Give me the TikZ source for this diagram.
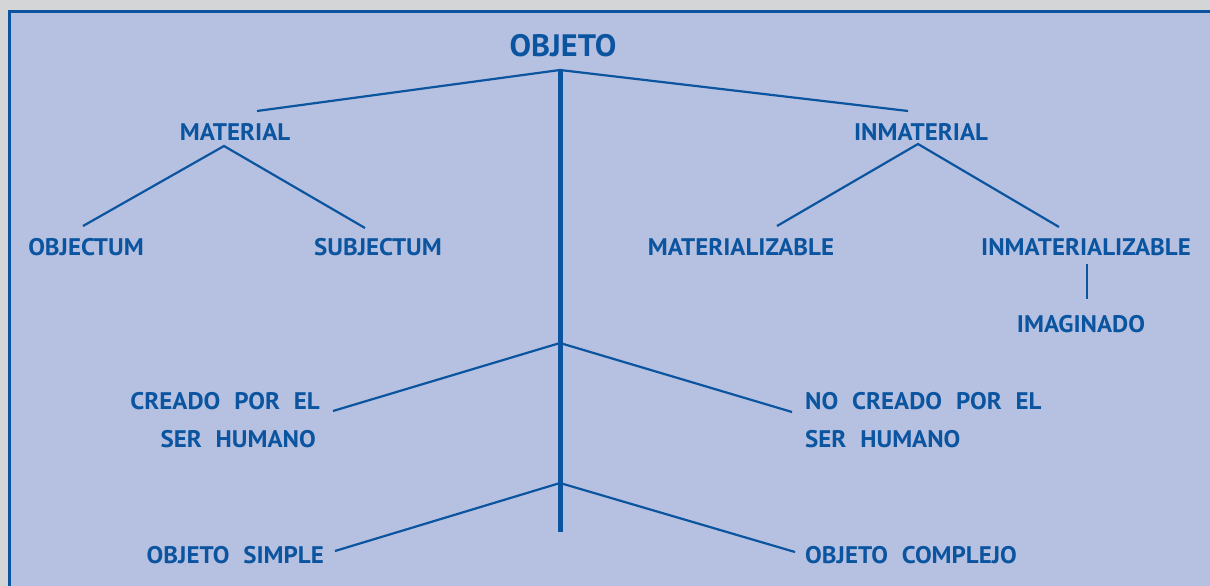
\documentclass[tikz,border=0pt]{standalone}
\usepackage{fontspec}
\setmainfont[FakeStretch=1.04, WordSpace=2.2]{PT Sans}
\definecolor{greybg}{HTML}{D4D5D7}
\definecolor{panel}{HTML}{B6C0E0}
\definecolor{inkblue}{HTML}{0B55A0}
\tikzset{
  label/.style={text=inkblue, font=\bfseries\fontsize{24}{28}\selectfont, inner sep=0pt},
  branch/.style={draw=inkblue, line width=2.2pt},
  trunk/.style={draw=inkblue, line width=5pt}
}
\begin{document}
\begin{tikzpicture}[x=1pt, y=-1pt]
  \useasboundingbox (0, 0) rectangle (1210, 586);
  \fill [greybg] (0, 0) rectangle (1210, 586);
  \draw [inkblue, fill=panel, line width=3pt] (9.5, 11.5) rectangle (1240, 610);

  % upper tree
  \node [label, anchor=base, font=\bfseries\fontsize{31}{34}\selectfont] (objeto) at (563, 57) {OBJETO};
  \node [label, anchor=base] (material) at (235, 140) {MATERIAL};
  \node [label, anchor=base] (inmaterial) at (921, 140) {INMATERIAL};
  \node [label, anchor=base] (objectum) at (86, 255) {OBJECTUM};
  \node [label, anchor=base] (subjectum) at (378, 255) {SUBJECTUM};
  \node [label, anchor=base] (materializable) at (741, 255) {MATERIALIZABLE};
  \node [label, anchor=base] (inmaterializable) at (1086, 255) {INMATERIALIZABLE};
  \node [label, anchor=base] (imaginado) at (1081, 332) {IMAGINADO};

  % lower labels
  \node [label, anchor=base east] (creado) at (320, 409) {CREADO POR EL};
  \node [label, anchor=base east] (creado2) at (316, 447) {SER HUMANO};
  \node [label, anchor=base west] (nocreado) at (805, 409) {NO CREADO POR EL};
  \node [label, anchor=base west] (nocreado2) at (805, 447) {SER HUMANO};
  \node [label, anchor=base east] (simple) at (324, 563) {OBJETO SIMPLE};
  \node [label, anchor=base west] (complejo) at (805, 563) {OBJETO COMPLEJO};

  % junctions and line ends
  \coordinate (root) at (560, 70);
  \coordinate (mid) at (560, 343);
  \coordinate (low) at (560, 483);
  \coordinate (foot) at (560, 532);
  \coordinate (mat-top) at (257, 111);
  \coordinate (inm-top) at (908, 111);
  \coordinate (mat-apex) at (224, 146);
  \coordinate (inm-apex) at (918, 144);
  \coordinate (obj-end) at (83, 226);
  \coordinate (sub-end) at (365, 228);
  \coordinate (mz-end) at (777, 226);
  \coordinate (imz-end) at (1059, 227);
  \coordinate (imz-down) at (1087, 264);
  \coordinate (img-up) at (1087, 299);
  \coordinate (cre-end) at (333, 411);
  \coordinate (nocre-end) at (792, 412);
  \coordinate (sim-end) at (335, 551);
  \coordinate (com-end) at (795, 552);

  \draw [trunk] (root) -- (foot);
  \draw [branch] (mat-top) -- (root) -- (inm-top);
  \draw [branch] (obj-end) -- (mat-apex) -- (sub-end);
  \draw [branch] (mz-end) -- (inm-apex) -- (imz-end);
  \draw [branch] (imz-down) -- (img-up);
  \draw [branch] (cre-end) -- (mid) -- (nocre-end);
  \draw [branch] (sim-end) -- (low) -- (com-end);
\end{tikzpicture}
\end{document}
